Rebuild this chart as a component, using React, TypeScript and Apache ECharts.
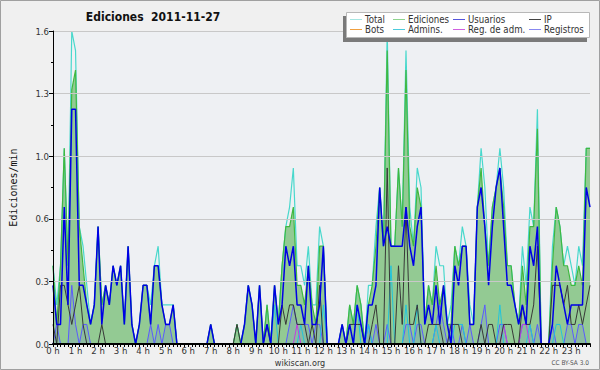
import { useEffect, useRef } from "react";
import * as echarts from "echarts";

// 10-minute slots, 00:00 .. 23:50
const slots: string[] = Array.from({ length: 144 }, (_, i) => `${Math.floor(i / 6)}:${String((i % 6) * 10).padStart(2, "0")}`);

const total = [
  0.4, 0.2, 0.4, 1.0, 0.4, 1.6,
  1.5, 0.6, 0.5, 0.3, 0.1, 0.2,
  0.6, 0.2, 0.3, 0.2, 0.4, 0.3,
  0.4, 0.1, 0.5, 0.1, 0, 0.1,
  0.3, 0.3, 0.2, 0.4, 0.5, 0.2,
  0.2, 0.2, 0.2, 0, 0, 0,
  0, 0, 0, 0, 0, 0,
  0.1, 0, 0, 0, 0, 0,
  0, 0.1, 0, 0.1, 0.3, 0.2,
  0, 0.3, 0, 0.2, 0, 0.3,
  0.1, 0.4, 0.6, 0.7, 0.9, 0.4,
  0.4, 0.3, 0.5, 0.2, 0.2, 0.6,
  0.5, 0, 0, 0, 0, 0.1,
  0, 0.2, 0.1, 0.3, 0.2, 0,
  0.3, 0.3, 0.6, 0.8, 0.5, 1.6,
  0.5, 0.5, 0.9, 0.6, 1.5, 0.7,
  0.5, 0.9, 0.8, 0.1, 0.3, 0.2,
  0.5, 0.4, 0.4, 0.1, 0.2, 0.5,
  0.4, 0.6, 0.5, 0.2, 0.1, 0.7,
  1.0, 0.8, 0.4, 0.7, 0.8, 1.0,
  0.8, 0.4, 0.4, 0.2, 0.1, 0.5,
  0.3, 0.7, 0.6, 1.2, 0, 0,
  0, 0.5, 0.7, 0.6, 0.4, 0.5,
  0.4, 0.3, 0.5, 0.4, 1.0, 1.0,
];

const ediciones = [
  0.4, 0.1, 0.4, 1.0, 0.4, 1.3,
  1.4, 0.6, 0.4, 0.2, 0.1, 0.2,
  0.6, 0.2, 0.3, 0.2, 0.4, 0.3,
  0.4, 0.1, 0.5, 0.1, 0, 0.1,
  0.3, 0.3, 0.1, 0.4, 0.4, 0.2,
  0.1, 0.1, 0.2, 0, 0, 0,
  0, 0, 0, 0, 0, 0,
  0.1, 0, 0, 0, 0, 0,
  0, 0.1, 0, 0.1, 0.3, 0.2,
  0, 0.3, 0, 0.2, 0, 0.3,
  0.1, 0.4, 0.6, 0.6, 0.7, 0.3,
  0.3, 0.2, 0.4, 0.2, 0.1, 0.5,
  0.5, 0, 0, 0, 0, 0.1,
  0, 0.2, 0.1, 0.3, 0.2, 0,
  0.2, 0.3, 0.5, 0.8, 0.5, 1.5,
  0.5, 0.5, 0.9, 0.6, 1.4, 0.6,
  0.5, 0.8, 0.7, 0.1, 0.3, 0.2,
  0.4, 0.2, 0.3, 0.1, 0.1, 0.5,
  0.4, 0.5, 0.5, 0.1, 0.1, 0.7,
  0.9, 0.6, 0.4, 0.7, 0.8, 0.9,
  0.7, 0.4, 0.4, 0.2, 0.1, 0.4,
  0.2, 0.6, 0.6, 1.1, 0, 0,
  0, 0.4, 0.7, 0.6, 0.4, 0.4,
  0.3, 0.3, 0.4, 0.3, 1.0, 1.0,
];

const usuarios = [
  0.3, 0.1, 0.1, 0.7, 0.2, 1.2,
  1.2, 0.3, 0.3, 0.2, 0.1, 0.2,
  0.6, 0.1, 0.3, 0.2, 0.4, 0.3,
  0.4, 0.1, 0.5, 0.1, 0, 0.1,
  0.3, 0.3, 0.1, 0.4, 0.4, 0.2,
  0.1, 0.1, 0.2, 0, 0, 0,
  0, 0, 0, 0, 0, 0,
  0.1, 0, 0, 0, 0, 0,
  0, 0, 0, 0.1, 0.3, 0.2,
  0, 0.3, 0, 0.1, 0, 0.3,
  0.1, 0.2, 0.5, 0.4, 0.5, 0.2,
  0.2, 0.1, 0.4, 0.1, 0.1, 0.2,
  0.5, 0, 0, 0, 0, 0.1,
  0, 0.1, 0, 0.2, 0.1, 0,
  0.2, 0.2, 0.3, 0.8, 0.5, 0.6,
  0.5, 0.5, 0.5, 0.5, 0.7, 0.5,
  0.4, 0.6, 0.7, 0.1, 0.2, 0.1,
  0.3, 0.1, 0.3, 0.1, 0, 0.4,
  0.3, 0.5, 0.5, 0.1, 0.1, 0.7,
  0.8, 0.6, 0.3, 0.6, 0.8, 0.9,
  0.6, 0.3, 0.3, 0.2, 0.1, 0.2,
  0.1, 0.5, 0.4, 0.6, 0, 0,
  0, 0.1, 0.4, 0.3, 0.2, 0.1,
  0.2, 0.2, 0.2, 0.2, 0.8, 0.7,
];

const ip = [
  0.1, 0, 0.3, 0.3, 0.2, 0.1,
  0.2, 0.3, 0.1, 0, 0, 0,
  0, 0.1, 0, 0, 0, 0,
  0, 0, 0, 0, 0, 0,
  0, 0, 0, 0, 0, 0,
  0, 0, 0, 0, 0, 0,
  0, 0, 0, 0, 0, 0,
  0, 0, 0, 0, 0, 0,
  0, 0.1, 0, 0, 0, 0,
  0, 0, 0, 0.1, 0, 0,
  0, 0.2, 0.1, 0.2, 0.2, 0.1,
  0.1, 0.1, 0, 0.1, 0, 0.3,
  0, 0, 0, 0, 0, 0,
  0, 0.1, 0.1, 0.1, 0.1, 0,
  0, 0.1, 0.2, 0, 0, 0.9,
  0, 0, 0.4, 0.1, 0.7, 0.1,
  0.1, 0.2, 0, 0, 0.1, 0.1,
  0.1, 0.1, 0, 0, 0.1, 0.1,
  0.1, 0, 0, 0, 0, 0,
  0.1, 0, 0.1, 0.1, 0, 0,
  0.1, 0.1, 0.1, 0, 0, 0.2,
  0.1, 0.1, 0.2, 0.5, 0, 0,
  0, 0.3, 0.3, 0.3, 0.2, 0.3,
  0.1, 0.1, 0.2, 0.1, 0.2, 0.3,
];

const admins = [
  0, 0, 0, 0, 0, 0,
  0, 0, 0, 0, 0, 0,
  0, 0, 0, 0, 0, 0,
  0, 0, 0, 0, 0, 0,
  0, 0, 0, 0, 0, 0,
  0, 0, 0, 0, 0, 0,
  0, 0, 0, 0, 0, 0,
  0, 0, 0, 0, 0, 0,
  0, 0, 0, 0, 0, 0,
  0, 0, 0, 0, 0, 0.2,
  0, 0, 0, 0, 0, 0,
  0.1, 0, 0, 0, 0, 0,
  0.2, 0, 0, 0, 0, 0,
  0, 0, 0, 0.2, 0, 0,
  0.1, 0, 0, 0, 0, 0,
  0.4, 0, 0, 0, 0.2, 0,
  0, 0.2, 0, 0, 0, 0,
  0.1, 0, 0, 0, 0, 0.1,
  0.1, 0.1, 0, 0, 0, 0,
  0, 0, 0, 0, 0, 0.2,
  0, 0, 0, 0, 0, 0,
  0, 0.1, 0, 0, 0, 0,
  0, 0, 0.1, 0.1, 0, 0,
  0, 0, 0, 0, 0, 0,
];

const regAdm = [
  0, 0, 0, 0, 0, 0,
  0, 0, 0, 0, 0, 0,
  0, 0, 0, 0, 0, 0,
  0, 0, 0, 0, 0, 0,
  0, 0, 0, 0, 0, 0,
  0, 0, 0, 0, 0, 0,
  0, 0, 0, 0, 0, 0,
  0, 0, 0, 0, 0, 0,
  0, 0, 0, 0, 0, 0,
  0, 0, 0, 0, 0, 0,
  0, 0, 0, 0, 0, 0.1,
  0, 0, 0, 0, 0, 0,
  0, 0, 0, 0, 0, 0,
  0, 0, 0, 0, 0, 0,
  0, 0, 0, 0, 0, 0,
  0, 0, 0, 0, 0, 0,
  0, 0, 0, 0, 0, 0,
  0, 0, 0, 0, 0, 0,
  0, 0, 0, 0, 0, 0,
  0, 0, 0, 0, 0, 0,
  0.1, 0, 0, 0, 0, 0.1,
  0.1, 0, 0, 0, 0, 0,
  0, 0, 0, 0, 0, 0,
  0, 0, 0, 0, 0, 0,
];

const registros = [
  0, 0.1, 0, 0, 0, 0.3,
  0.1, 0, 0.1, 0.1, 0, 0,
  0, 0, 0, 0, 0, 0,
  0, 0, 0, 0, 0, 0,
  0, 0, 0.1, 0, 0.1, 0,
  0.1, 0.1, 0, 0, 0, 0,
  0, 0, 0, 0, 0, 0,
  0, 0, 0, 0, 0, 0,
  0, 0, 0, 0, 0, 0,
  0, 0, 0, 0, 0, 0,
  0, 0, 0, 0.1, 0.2, 0.1,
  0.1, 0.1, 0.1, 0, 0.1, 0.1,
  0, 0, 0, 0, 0, 0,
  0, 0, 0, 0, 0, 0,
  0.1, 0, 0.1, 0, 0, 0.1,
  0, 0, 0, 0, 0.1, 0.1,
  0, 0.1, 0.1, 0, 0, 0,
  0.1, 0.2, 0.1, 0, 0.1, 0,
  0, 0.1, 0, 0.1, 0, 0,
  0.1, 0.2, 0, 0, 0, 0.1,
  0.1, 0, 0, 0, 0, 0.1,
  0.1, 0.1, 0, 0.1, 0, 0,
  0, 0.1, 0, 0, 0, 0.1,
  0.1, 0, 0.1, 0.1, 0, 0,
];

const legendItems = [
  { name: "Total", color: "#a6e6e2", col: 0, row: 0 },
  { name: "Ediciones", color: "#8fd48f", col: 1, row: 0 },
  { name: "Usuarios", color: "#5656dc", col: 2, row: 0 },
  { name: "IP", color: "#444444", col: 3, row: 0 },
  { name: "Bots", color: "#f0a040", col: 0, row: 1 },
  { name: "Admins.", color: "#4ccbdc", col: 1, row: 1 },
  { name: "Reg. de adm.", color: "#d060e0", col: 2, row: 1 },
  { name: "Registros", color: "#8888f0", col: 3, row: 1 },
];

const FONT = '"DejaVu Sans Condensed", "DejaVu Sans", sans-serif';

export default function App() {
  const ref = useRef<HTMLDivElement>(null);

  useEffect(() => {
    if (!ref.current) return;
    const chart = echarts.init(ref.current, undefined, { renderer: "svg" });

    const colX = [350, 393, 453, 529];
    const rowY = [19.5, 29.5];
    const legendGraphics: any[] = [];
    legendItems.forEach((it) => {
      const x = colX[it.col];
      const y = rowY[it.row];
      legendGraphics.push({
        type: "line",
        z: 101,
        shape: { x1: x, y1: y, x2: x + 12, y2: y },
        style: { stroke: it.color, lineWidth: 1 },
      });
      legendGraphics.push({
        type: "text",
        z: 101,
        style: {
          x: x + 15,
          y: y,
          text: it.name,
          fill: "#333",
          fontSize: 9.6,
          lineHeight: 10,
          fontFamily: FONT,
          textAlign: "left",
          textVerticalAlign: "middle",
          align: "left",
          verticalAlign: "middle",
        },
      });
    });

    const lineSeries = (name: string, data: number[], color: string, width: number, extra: any = {}) => ({
      name,
      type: "line",
      data,
      symbol: "none",
      showSymbol: false,
      lineStyle: { color, width },
      itemStyle: { color },
      emphasis: { disabled: true },
      ...extra,
    });

    chart.setOption({
      animation: false,
      backgroundColor: "#f0f0f0",
      grid: {
        left: 46,
        right: 10,
        top: 31,
        bottom: 26,
        show: true,
        backgroundColor: "#eef0f3",
        borderWidth: 0,
      },
      xAxis: {
        type: "category",
        data: slots,
        boundaryGap: false,
        z: 10,
        axisLine: { lineStyle: { color: "#000", width: 2 } },
        axisTick: { interval: 0, length: 3, lineStyle: { color: "#000" } },
        axisLabel: {
          interval: 5,
          margin: 2,
          fontSize: 9.5,
          lineHeight: 9,
          fontFamily: FONT,
          color: "#333",
          formatter: (_v: string, idx: number) => `${Math.round(idx / 6)} h`,
        },
        splitLine: { show: false },
      },
      yAxis: {
        type: "value",
        min: 0,
        max: 1.6,
        interval: 0.32,
        z: 10,
        name: "Ediciones/min",
        nameLocation: "middle",
        nameRotate: 90,
        nameGap: 35,
        nameTextStyle: { fontFamily: '"DejaVu Sans Mono", monospace', fontSize: 10, color: "#111" },
        axisLine: { show: true, lineStyle: { color: "#000", width: 1 } },
        axisTick: { show: true, length: 4, lineStyle: { color: "#000" } },
        minorTick: { show: true, splitNumber: 2, length: 2, lineStyle: { color: "#000" } },
        axisLabel: {
          margin: 4,
          fontSize: 9.5,
          fontFamily: FONT,
          color: "#333",
          formatter: (v: number) => v.toFixed(1),
        },
        splitLine: { show: true, lineStyle: { color: "#c8c8c8", width: 1 } },
      },
      series: [
        lineSeries("Total", total, "#48d8cc", 1.2),
        lineSeries("Ediciones", ediciones, "#40b840", 1.2, {
          areaStyle: { color: "#93ca93", opacity: 1 },
        }),
        lineSeries("Registros", registros, "#5a5aff", 1, {
          areaStyle: { color: "rgba(90,90,255,0.18)" },
        }),
        lineSeries("Admins.", admins, "#22c4dc", 1),
        lineSeries("Reg. de adm.", regAdm, "#c040e0", 1),
        lineSeries("IP", ip, "#383838", 1),
        lineSeries("Usuarios", usuarios, "#0000e6", 1.5),
      ],
      graphic: [
        {
          type: "rect",
          z: 100,
          silent: true,
          shape: { x: 0.5, y: 0.5, width: 599, height: 369 },
          style: { fill: "none", stroke: "#a0a0a0", lineWidth: 1 },
        },
        {
          type: "text",
          z: 100,
          style: {
            x: 153,
            y: 17,
            text: "Ediciones  2011-11-27",
            fill: "#111",
            fontSize: 12,
            fontWeight: "bold",
            fontFamily: FONT,
            textAlign: "center",
            textVerticalAlign: "middle",
            align: "center",
            verticalAlign: "middle",
          },
        },
        {
          type: "rect",
          z: 100,
          shape: { x: 343, y: 16, width: 244, height: 26 },
          style: { fill: "#7a7a7a" },
        },
        {
          type: "rect",
          z: 100,
          shape: { x: 346.5, y: 12.5, width: 243, height: 25 },
          style: { fill: "#ffffff", stroke: "#b8b8b8", lineWidth: 1 },
        },
        ...legendGraphics,
        {
          type: "text",
          z: 100,
          style: {
            x: 300,
            y: 363,
            text: "wikiscan.org",
            fill: "#333",
            fontSize: 9,
            lineHeight: 9,
            fontFamily: FONT,
            textAlign: "center",
            textVerticalAlign: "middle",
            align: "center",
            verticalAlign: "middle",
          },
        },
        {
          type: "text",
          z: 100,
          style: {
            x: 589,
            y: 363,
            text: "CC BY-SA 3.0",
            fill: "#555",
            fontSize: 6.5,
            lineHeight: 7,
            fontFamily: FONT,
            textAlign: "right",
            textVerticalAlign: "middle",
            align: "right",
            verticalAlign: "middle",
          },
        },
      ],
    });

    return () => chart.dispose();
  }, []);

  return (
    <div
      ref={ref}
      style={{ position: "fixed", left: 0, top: 0, width: 600, height: 370 }}
    />
  );
}
